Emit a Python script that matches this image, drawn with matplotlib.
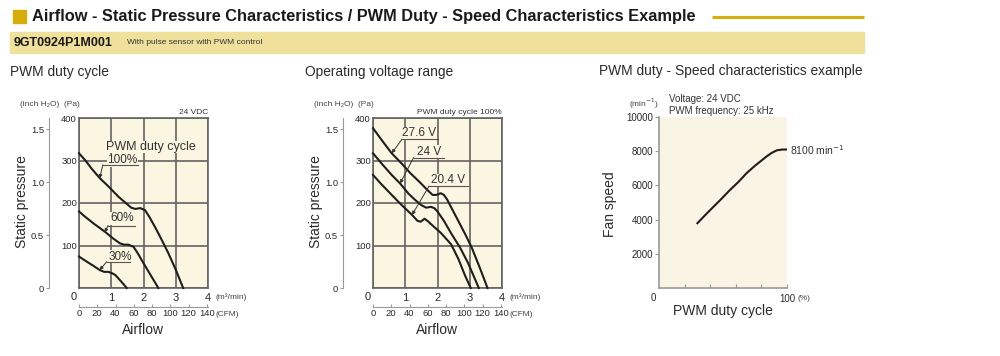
import matplotlib.pyplot as plt
from matplotlib.patches import Rectangle

W, H = 1000, 356
plt.rcParams['font.family'] = ['Liberation Sans', 'DejaVu Sans']

# PWM duty cycle panel: airflow (m3/min) vs static pressure (Pa)
duty100_q = [0, 0.2, 0.4, 0.65, 0.9, 1.22, 1.45, 1.62, 1.75, 1.9, 2.05, 2.2, 2.41, 2.6, 2.77, 3.0, 3.23]
duty100_p = [317, 300, 280, 258, 240, 215, 200, 189, 186, 188, 183, 165, 136, 108, 82, 43, 0]
duty60_q = [0, 0.2, 0.45, 0.81, 1.05, 1.27, 1.4, 1.53, 1.69, 1.82, 1.94, 2.2, 2.46]
duty60_p = [180, 167, 152, 132, 117, 105, 102, 102, 97, 82, 66, 33, 0]
duty30_q = [0, 0.2, 0.45, 0.65, 0.78, 0.91, 1.02, 1.12, 1.3, 1.48]
duty30_p = [74, 64, 52, 42, 38, 38, 35, 31, 16, 0]

# Operating voltage panel
v276_q = [0, 0.3, 0.58, 0.9, 1.16, 1.45, 1.68, 1.85, 1.97, 2.1, 2.2, 2.3, 2.45, 2.63, 2.85, 3.05, 3.3, 3.55]
v276_p = [376, 345, 317, 292, 270, 249, 231, 219, 219, 223, 219, 208, 186, 160, 128, 97, 50, 0]
v24_q = [0, 0.3, 0.58, 0.84, 1.1, 1.31, 1.5, 1.65, 1.79, 1.9, 2.0, 2.2, 2.42, 2.7, 2.94, 3.1, 3.28]
v24_p = [317, 290, 266, 246, 222, 207, 195, 189, 191, 188, 180, 158, 129, 95, 60, 32, 0]
v204_q = [0, 0.25, 0.53, 0.85, 1.21, 1.38, 1.48, 1.6, 1.72, 1.89, 2.1, 2.42, 2.65, 2.85, 3.03]
v204_p = [266, 245, 223, 198, 172, 158, 156, 163, 156, 144, 130, 103, 68, 30, 0]

# PWM duty vs speed
duty_pct = [30, 35, 40, 48, 55, 62, 68.5, 75, 80, 84, 88, 92, 96, 100]
speed_rpm = [3790, 4180, 4560, 5155, 5700, 6200, 6720, 7150, 7450, 7690, 7900, 8050, 8095, 8100]

# curve labels: text, text x, text y, underline x0, x1, underline y, arrow tip
duty_labels = [("100%", 0.87, 301, 0.74, 1.83, 290, (0.64, 258)),
               ("60%", 0.96, 164, 0.90, 1.74, 147, (0.80, 131)),
               ("30%", 0.91, 74, 0.86, 1.58, 62, (0.64, 42))]
volt_labels = [("27.6 V", 0.90, 364, 0.90, 2.0, 350, (0.58, 317)),
               ("24 V", 1.37, 321, 1.26, 2.2, 307, (0.84, 246)),
               ("20.4 V", 1.79, 254, 1.74, 2.94, 240, (1.21, 172))]

CREAM = '#FBF6E2'
GRID = '#636363'
LINE = '#1e1e1e'
SPINE2 = '#9a9a9a'
TXT = '#2a2a2a'
SMALL = 6


def box(l, t, r, b):
    return [l / W, 1 - b / H, (r - l) / W, (b - t) / H]


fig = plt.figure(figsize=(W / 100, H / 100), dpi=100)
bg = fig.add_axes([0, 0, 1, 1])
bg.set_xlim(0, W)
bg.set_ylim(H, 0)
bg.axis('off')

# header
bg.add_patch(Rectangle((13, 10), 13, 13, color='#D6AE0C'))
bg.text(32, 16.5, 'Airflow - Static Pressure Characteristics / PWM Duty - Speed Characteristics Example',
        fontsize=11.8, fontweight='bold', va='center', color='#1a1a1a')
bg.plot([712, 864], [16.7, 16.7], color='#D4AF0E', lw=2.2, solid_capstyle='butt')
bg.add_patch(Rectangle((10, 32), 854, 21, color='#EFE19C'))
bg.text(14, 42.5, '9GT0924P1M001', fontsize=9, fontweight='bold', va='center', color='#1a1a1a')
bg.text(127, 43, 'With pulse sensor with PWM control', fontsize=6, va='center', color='#333333')

bg.text(10, 72, 'PWM duty cycle', fontsize=9.9, va='center', color=TXT)
bg.text(305, 72, 'Operating voltage range', fontsize=9.9, va='center', color=TXT)
bg.text(599, 71, 'PWM duty - Speed characteristics example', fontsize=9.9, va='center', color=TXT)


def pressure_panel(left, curves, labels, note):
    ax = fig.add_axes(box(left, 118, left + 129, 288))
    ax.set_facecolor(CREAM)
    ax.set_xlim(0, 4)
    ax.set_ylim(0, 400)
    ax.set_xticks([0, 1, 2, 3, 4])
    ax.set_xticklabels(['', '1', '2', '3', '4'])
    ax.set_yticks([0, 100, 200, 300, 400])
    ax.set_yticklabels(['', '100', '200', '300', '400'])
    ax.tick_params(axis='both', length=0, colors=TXT)
    ax.tick_params(axis='x', labelsize=8, pad=3.5)
    ax.tick_params(axis='y', labelsize=6.8, pad=1.5)
    ax.grid(True, color=GRID, lw=1.2)
    for s in ax.spines.values():
        s.set_color(GRID)
        s.set_linewidth(1.2)

    for q, p in curves:
        ax.plot(q, p, color=LINE, lw=1.5, clip_on=False, zorder=3)

    for txt, tx, ty, u0, u1, uy, tip in labels:
        ax.text(tx, ty, txt, fontsize=8.5, va='center', ha='left', color='#333333', zorder=4,
                bbox=dict(facecolor=CREAM, edgecolor='none', pad=0.3))
        ax.plot([u0, u1], [uy, uy], color='#555555', lw=0.8, zorder=4)
        ax.annotate('', xy=tip, xytext=(u0, uy),
                    arrowprops=dict(arrowstyle='-|>', color='#333333', lw=0.7,
                                    mutation_scale=5, shrinkA=0, shrinkB=0), zorder=4)

    inch = ax.secondary_yaxis(-0.233, functions=(lambda p: p / 249.09, lambda i: i * 249.09))
    inch.set_yticks([0, 0.5, 1.0, 1.5])
    inch.set_yticklabels(['0', '0.5', '1.0', '1.5'])
    inch.tick_params(length=2.5, color=SPINE2, labelsize=6.8, pad=1, labelcolor=TXT)
    inch.spines['left'].set_color(SPINE2)

    cfm = ax.secondary_xaxis(-0.11, functions=(lambda q: q * 35.315, lambda c: c / 35.315))
    cfm.set_xticks([0, 20, 40, 60, 80, 100, 120, 140])
    cfm.tick_params(direction='in', length=2.5, color=SPINE2, labelsize=6.8, pad=1.5,
                    labelcolor=TXT)
    cfm.spines['bottom'].set_color(SPINE2)

    off = left - 79
    bg.text(74 + off, 297, '0', fontsize=8, ha='center', va='center', color=TXT)
    bg.text(20 + off, 104, '(inch H₂O)  (Pa)', fontsize=SMALL, va='center', color='#444444')
    bg.text(left + 129, 112, note, fontsize=SMALL, ha='right', va='center', color='#333333')
    bg.text(left + 136, 297, '(m³/min)', fontsize=SMALL, va='center', color='#444444')
    bg.text(left + 137, 315, '(CFM)', fontsize=SMALL, va='center', color='#444444')
    bg.text(left + 64, 330, 'Airflow', fontsize=10, ha='center', va='center', color=TXT)
    bg.text(22 + off, 202, 'Static pressure', fontsize=10, rotation=90, ha='center', va='center',
            color=TXT)
    return ax


ax1 = pressure_panel(79, [(duty100_q, duty100_p), (duty60_q, duty60_p), (duty30_q, duty30_p)],
                     duty_labels, '24 VDC')
ax1.text(0.84, 332, 'PWM duty cycle', fontsize=9, va='center', color='#333333', zorder=4,
         bbox=dict(facecolor=CREAM, edgecolor='none', pad=0.3))
ax2 = pressure_panel(373, [(v276_q, v276_p), (v24_q, v24_p), (v204_q, v204_p)],
                     volt_labels, 'PWM duty cycle 100%')

# speed panel
ax3 = fig.add_axes(box(659, 117, 787, 288))
ax3.set_facecolor('#F9F4E3')
ax3.set_xlim(0, 100)
ax3.set_ylim(0, 10000)
ax3.plot(duty_pct, speed_rpm, color=LINE, lw=1.5)
ax3.spines['top'].set_visible(False)
ax3.spines['right'].set_visible(False)
for s in ['left', 'bottom']:
    ax3.spines[s].set_color(SPINE2)
    ax3.spines[s].set_linewidth(1.2)
ax3.set_yticks([2000, 4000, 6000, 8000, 10000])
ax3.tick_params(axis='y', length=3, color=SPINE2, labelsize=7, pad=1, labelcolor=TXT)
ax3.set_xticks([20, 40, 60, 80, 100])
ax3.set_xticklabels(['', '', '', '', '100'])
ax3.tick_params(axis='x', direction='in', length=3, color=SPINE2, labelsize=7, pad=4,
                labelcolor=TXT)

bg.text(653, 298, '0', fontsize=7, ha='center', va='center', color=TXT)
bg.text(797, 298, '(%)', fontsize=SMALL, va='center', color='#444444')
bg.text(644, 104, r'(min$^{-1}$)', fontsize=SMALL, ha='center', va='center', color='#444444')
bg.text(669, 99, 'Voltage: 24 VDC', fontsize=7, va='center', color='#333333')
bg.text(669, 111, 'PWM frequency: 25 kHz', fontsize=7, va='center', color='#333333')
bg.text(790, 150, r'8100 min$^{-1}$', fontsize=7.5, va='center', color='#333333')
bg.text(610, 204, 'Fan speed', fontsize=10, rotation=90, ha='center', va='center', color=TXT)
bg.text(723, 311, 'PWM duty cycle', fontsize=10, ha='center', va='center', color=TXT)

fig.savefig('out.png', dpi=100)
